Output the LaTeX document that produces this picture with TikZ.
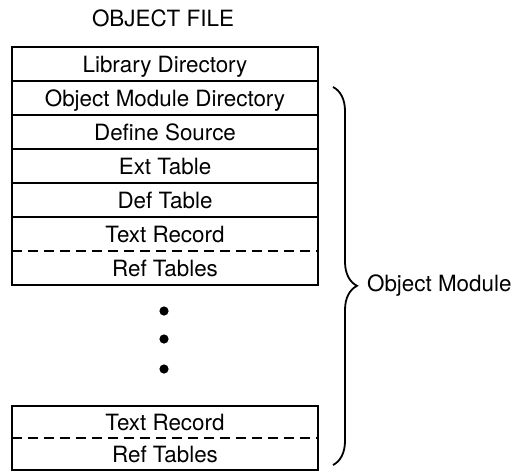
\documentclass[tikz,border=0pt]{standalone}
\usepackage{fontspec}
\setmainfont{TeX Gyre Heros}
\usepackage{tikz}
\usetikzlibrary{positioning,decorations.pathreplacing}
\newcommand{\rowfont}{\fontsize{11.2pt}{13.5pt}\selectfont}
\tikzset{
  rowbox/.style={rectangle, draw, line width=0.9pt, minimum width=153pt,
                 minimum height=17pt, inner sep=0pt, outer sep=0pt,
                 text height=8pt, text depth=0pt, font=\rowfont},
  halfbox/.style={rowbox, draw=none},
  sepline/.style={line width=0.8pt, dash pattern=on 5pt off 3pt},
  dotmark/.style={circle, fill, inner sep=0pt, minimum size=4.6pt},
  brc/.style={decorate, decoration={brace, amplitude=12pt, aspect=0.526},
              line width=0.9pt},
}
\begin{document}
\begin{tikzpicture}[x=0.5pt,y=-0.5pt]
  \useasboundingbox (0,0) rectangle (512,471);

  % title
  \node[font=\rowfont] (title) at (163,18) {OBJECT FILE};

  % rows of the file
  \node[rowbox, anchor=north west] (libdir) at (12,47) {Library Directory};
  \node[rowbox, below=0pt of libdir] (moddir) {Object Module Directory};
  \node[rowbox, below=0pt of moddir] (defsrc) {Define Source};
  \node[rowbox, below=0pt of defsrc] (exttab) {Ext Table};
  \node[rowbox, below=0pt of exttab] (deftab) {Def Table};
  \node[halfbox, below=0pt of deftab] (textrec) {Text Record};
  \node[halfbox, below=0pt of textrec] (reftab) {Ref Tables};
  \draw[line width=0.9pt] (textrec.north west) rectangle (reftab.south east);
  \draw[sepline] (textrec.south west) -- (textrec.south east);

  % more records
  \foreach \y [count=\i] in {311,339,369}
    \node[dotmark] (dot\i) at (164,\y) {};

  % last record
  \node[halfbox, minimum height=16pt, anchor=north west] (textrecb) at (12,406) {Text Record};
  \node[halfbox, minimum height=16pt, below=0pt of textrecb] (reftabb) {Ref Tables};
  \draw[line width=0.9pt] (textrecb.north west) rectangle (reftabb.south east);
  \draw[sepline] (textrecb.south west) -- (textrecb.south east);

  % module brace
  \coordinate (brtop) at (333,87);
  \coordinate (brbot) at (333,465);
  \draw[brc] (brtop) -- (brbot);
  \node[anchor=west, font=\rowfont] (objmod) at (360,286) {Object Module};
\end{tikzpicture}
\end{document}
